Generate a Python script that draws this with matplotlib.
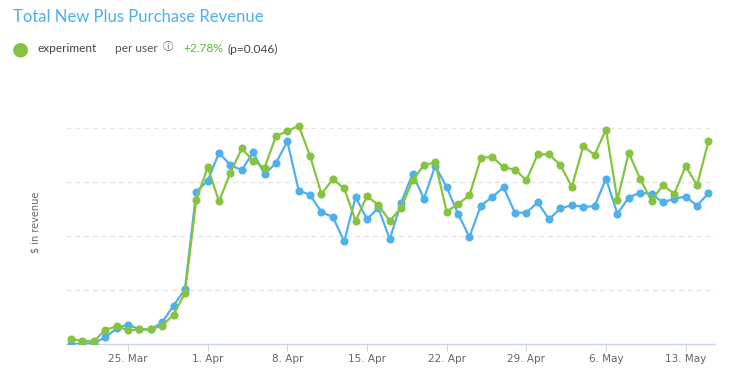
import matplotlib
matplotlib.use("Agg")
import matplotlib.pyplot as plt
import datetime as dt

start_date = "2024-03-20"
n_days = 57
control = [0.00, 0.00, 0.02, 0.12, 0.29, 0.36, 0.27, 0.27, 0.40, 0.71, 1.01, 2.82,
           3.02, 3.54, 3.31, 3.22, 3.55, 3.14, 3.35, 3.75, 2.84, 2.76, 2.44, 2.35,
           1.90, 2.72, 2.31, 2.52, 1.94, 2.61, 3.15, 2.69, 3.30, 2.90, 2.41, 1.98,
           2.56, 2.72, 2.90, 2.43, 2.43, 2.62, 2.31, 2.51, 2.57, 2.54, 2.55, 3.06,
           2.41, 2.71, 2.80, 2.78, 2.62, 2.69, 2.73, 2.56, 2.79]
experiment = [0.09, 0.06, 0.05, 0.26, 0.33, 0.25, 0.27, 0.27, 0.34, 0.54, 0.94, 2.67,
              3.27, 2.64, 3.17, 3.62, 3.39, 3.26, 3.85, 3.94, 4.04, 3.48, 2.78, 3.05,
              2.88, 2.28, 2.74, 2.57, 2.28, 2.52, 3.03, 3.31, 3.36, 2.45, 2.59, 2.75,
              3.44, 3.47, 3.27, 3.23, 3.03, 3.51, 3.51, 3.31, 2.91, 3.66, 3.50, 3.97,
              2.67, 3.54, 3.06, 2.65, 2.94, 2.78, 3.29, 2.94, 3.75]
tick_dates = ["2024-03-25", "2024-04-01", "2024-04-08", "2024-04-15",
              "2024-04-22", "2024-04-29", "2024-05-06", "2024-05-13"]
tick_labels = ["25. Mar", "1. Apr", "8. Apr", "15. Apr", "22. Apr", "29. Apr", "6. May", "13. May"]

BLUE = "#4fb0ec"
GREEN = "#86c440"

d0 = dt.datetime.fromisoformat(start_date)
dates = [d0 + dt.timedelta(days=i) for i in range(n_days)]
ticks = [dt.datetime.fromisoformat(t) for t in tick_dates]

fig = plt.figure(figsize=(7.33, 3.78), dpi=100)
ax = fig.add_axes([0.090, 0.090, 0.885, 0.643])

ax.plot(dates, control, color=BLUE, lw=1.6, marker="o", ms=4.8, mec=BLUE, mfc=BLUE, zorder=3)
ax.plot(dates, experiment, color=GREEN, lw=1.6, marker="o", ms=4.8, mec=GREEN, mfc=GREEN, zorder=4)

ax.set_xlim(d0 - dt.timedelta(days=0.45), dates[-1] + dt.timedelta(days=0.55))
ax.set_ylim(0, 4.5)
ax.set_yticks([1, 2, 3, 4])
ax.yaxis.grid(True, color="#e4e4e4", ls=(0, (4, 3)), lw=0.9)
ax.tick_params(axis="y", length=0, labelleft=False)
ax.set_xticks(ticks)
ax.set_xticklabels(tick_labels)
ax.tick_params(axis="x", length=5, color="#ccd6eb", labelsize=7.5, labelcolor="#666666", pad=2)
for s in ["top", "right", "left"]:
    ax.spines[s].set_visible(False)
ax.spines["bottom"].set_color("#ccd6eb")
ax.spines["bottom"].set_linewidth(1)
ax.set_ylabel("$ in revenue", fontsize=7, color="#666666", labelpad=18)

fig.text(13/733, 1 - 17/378, "Total New Plus Purchase Revenue", fontsize=12, color="#4fb0ec",
         va="center", ha="left", fontfamily="Lato")
fig.text(20/733, 1 - 49/378, "\u25cf", fontsize=14, color=GREEN, va="center", ha="center")
fig.text(38/733, 1 - 49/378, "experiment", fontsize=8.6, color="#444444", va="center", ha="left", fontfamily="Lato")
fig.text(115/733, 1 - 49/378, "per user", fontsize=8.6, color="#555555", va="center", ha="left", fontfamily="Lato")
fig.text(163/733, 1 - 47/378, "\u24d8", fontsize=7.5, color="#555555", va="center", ha="left",
         fontfamily=["Noto Sans CJK SC", "DejaVu Sans"])
fig.text(183/733, 1 - 49/378, "+2.78%", fontsize=8.6, color="#5cb83a", va="center", ha="left", fontfamily="Lato")
fig.text(228/733, 1 - 49/378, "(p=0.046)", fontsize=8.6, color="#444444", va="center", ha="left", fontfamily="Lato")

fig.savefig("out.png", dpi=100)
